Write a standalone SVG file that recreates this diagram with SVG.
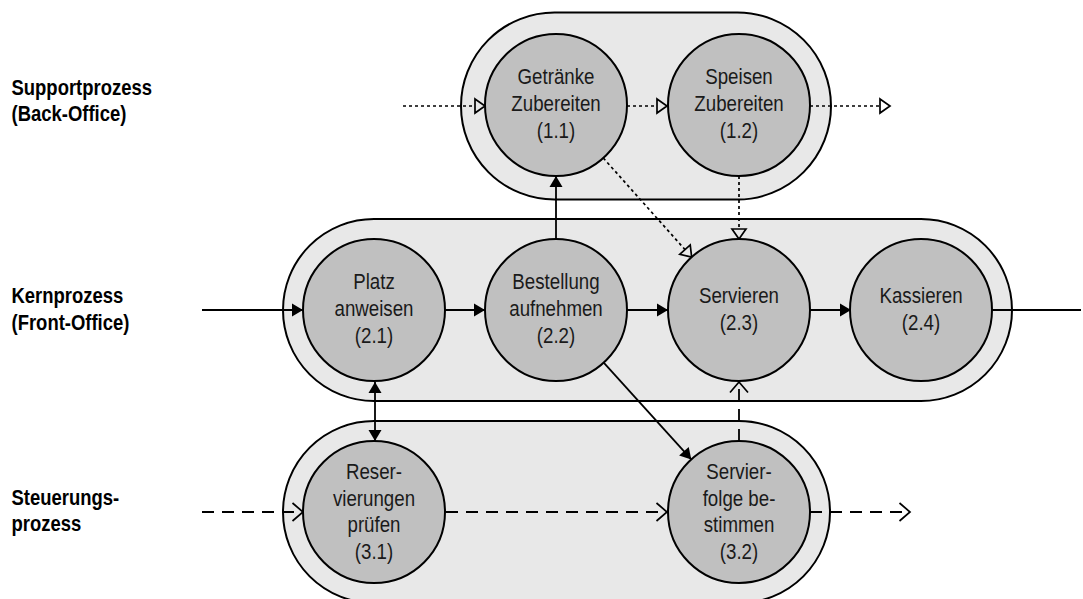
<svg xmlns="http://www.w3.org/2000/svg" width="1083" height="599" viewBox="0 0 1083 599">
  <style>
    .lane { fill: #e8e8e8; stroke: #000; stroke-width: 2; }
    .proc { fill: #c0c0c0; stroke: #000; stroke-width: 2; }
    .t { font-family: "Liberation Sans", Arial, sans-serif; font-size: 22px; fill: #1a1a1a; text-anchor: middle; }
    .lbl { font-family: "Liberation Sans", Arial, sans-serif; font-size: 22px; font-weight: bold; fill: #000; }
    .solid { fill: none; stroke: #000; stroke-width: 1.8; }
    .dotted { fill: none; stroke: #000; stroke-width: 1.7; stroke-dasharray: 3 3; }
    .dashed { fill: none; stroke: #000; stroke-width: 1.8; stroke-dasharray: 12 8; }
  </style>
  <defs>
    <marker id="filled" markerUnits="userSpaceOnUse" markerWidth="14" markerHeight="16" viewBox="-12 -8 13 16" refX="0" refY="0" orient="auto-start-reverse">
      <path d="M-11,-6.5 L0,0 L-11,6.5 Z" fill="#000"/>
    </marker>
    <marker id="hollow" markerUnits="userSpaceOnUse" markerWidth="14" markerHeight="18" viewBox="-1 -9 13 18" refX="0" refY="0" orient="auto">
      <path d="M0,-7 L10,0 L0,7 Z" fill="none" stroke="#000" stroke-width="1.7"/>
    </marker>
    <marker id="chevron" markerUnits="userSpaceOnUse" markerWidth="14" markerHeight="22" viewBox="-12 -11 14 22" refX="0" refY="0" orient="auto">
      <path d="M-10.5,-9 L0,0 L-10.5,9" fill="none" stroke="#000" stroke-width="1.7"/>
    </marker>
  </defs>

  <rect width="1083" height="599" fill="#fff"/>

  <!-- lane labels -->
  <g id="labels">
    <text class="lbl" transform="translate(11.5,0) scale(0.84,1)"><tspan x="0" y="95">Supportprozess</tspan><tspan x="0" y="121.5">(Back-Office)</tspan></text>
    <text class="lbl" transform="translate(11.5,0) scale(0.84,1)"><tspan x="0" y="303">Kernprozess</tspan><tspan x="0" y="330">(Front-Office)</tspan></text>
    <text class="lbl" transform="translate(11.5,0) scale(0.84,1)"><tspan x="0" y="505">Steuerungs-</tspan><tspan x="0" y="531">prozess</tspan></text>
  </g>

  <!-- lanes -->
  <g id="lane-support"><rect class="lane" x="461" y="12.5" width="370" height="187" rx="93.5" ry="93.5"/></g>
  <g id="lane-kern"><rect class="lane" x="283" y="219" width="729" height="182" rx="91" ry="91"/></g>
  <g id="lane-steuerung"><rect class="lane" x="283" y="421" width="547" height="182" rx="91" ry="91"/></g>

  <!-- connectors -->
  <g id="connectors">
    <!-- support flow (dotted, hollow heads) -->
    <path class="dotted" d="M403,106 H475" marker-end="url(#hollow)"/>
    <path class="dotted" d="M627,106 H657" marker-end="url(#hollow)"/>
    <path class="dotted" d="M810,106 H880" marker-end="url(#hollow)"/>
    <path class="dotted" d="M603.3,158 L685,249.6" marker-end="url(#hollow)"/>
    <path class="dotted" d="M739,176 V229" marker-end="url(#hollow)"/>
    <!-- core flow (solid, filled heads) -->
    <path class="solid" d="M202,310 H303" marker-end="url(#filled)"/>
    <path class="solid" d="M445,310 H485" marker-end="url(#filled)"/>
    <path class="solid" d="M627,310 H668" marker-end="url(#filled)"/>
    <path class="solid" d="M810,310 H851" marker-end="url(#filled)"/>
    <path class="solid" d="M992,310 H1081"/>
    <path class="solid" d="M556,239 V176" marker-end="url(#filled)"/>
    <path class="solid" d="M603.7,362.6 L691.3,459.4" marker-end="url(#filled)"/>
    <path class="solid" d="M375,382 V441" marker-start="url(#filled)" marker-end="url(#filled)"/>
    <!-- control flow (dashed, open heads) -->
    <path class="dashed" d="M202,512 H303" marker-end="url(#chevron)"/>
    <path class="dashed" d="M446,512 H667" marker-end="url(#chevron)"/>
    <path class="dashed" d="M810,512 H910" marker-end="url(#chevron)"/>
    <path class="dashed" d="M739,441 V382" marker-end="url(#chevron)"/>
  </g>

  <!-- processes -->
  <g id="p1-1">
    <circle class="proc" cx="556" cy="105" r="71"/>
    <text class="t" transform="translate(556,105) scale(0.85,1)"><tspan x="0" y="-21">Getränke</tspan><tspan x="0" y="6">Zubereiten</tspan><tspan x="0" y="33">(1.1)</tspan></text>
  </g>
  <g id="p1-2">
    <circle class="proc" cx="739" cy="105" r="71"/>
    <text class="t" transform="translate(739,105) scale(0.85,1)"><tspan x="0" y="-21">Speisen</tspan><tspan x="0" y="6">Zubereiten</tspan><tspan x="0" y="33">(1.2)</tspan></text>
  </g>
  <g id="p2-1">
    <circle class="proc" cx="374" cy="310" r="71"/>
    <text class="t" transform="translate(374,310) scale(0.85,1)"><tspan x="0" y="-21">Platz</tspan><tspan x="0" y="6">anweisen</tspan><tspan x="0" y="33">(2.1)</tspan></text>
  </g>
  <g id="p2-2">
    <circle class="proc" cx="556" cy="310" r="71"/>
    <text class="t" transform="translate(556,310) scale(0.85,1)"><tspan x="0" y="-21">Bestellung</tspan><tspan x="0" y="6">aufnehmen</tspan><tspan x="0" y="33">(2.2)</tspan></text>
  </g>
  <g id="p2-3">
    <circle class="proc" cx="739" cy="310" r="71"/>
    <text class="t" transform="translate(739,310) scale(0.85,1)"><tspan x="0" y="-7">Servieren</tspan><tspan x="0" y="20">(2.3)</tspan></text>
  </g>
  <g id="p2-4">
    <circle class="proc" cx="921" cy="310" r="71"/>
    <text class="t" transform="translate(921,310) scale(0.85,1)"><tspan x="0" y="-7">Kassieren</tspan><tspan x="0" y="20">(2.4)</tspan></text>
  </g>
  <g id="p3-1">
    <circle class="proc" cx="374" cy="512" r="71"/>
    <text class="t" transform="translate(374,512) scale(0.85,1)"><tspan x="0" y="-33">Reser-</tspan><tspan x="0" y="-6">vierungen</tspan><tspan x="0" y="20">prüfen</tspan><tspan x="0" y="47">(3.1)</tspan></text>
  </g>
  <g id="p3-2">
    <circle class="proc" cx="739" cy="512" r="71"/>
    <text class="t" transform="translate(739,512) scale(0.85,1)"><tspan x="0" y="-33">Servier-</tspan><tspan x="0" y="-6">folge be-</tspan><tspan x="0" y="20">stimmen</tspan><tspan x="0" y="47">(3.2)</tspan></text>
  </g>
</svg>
